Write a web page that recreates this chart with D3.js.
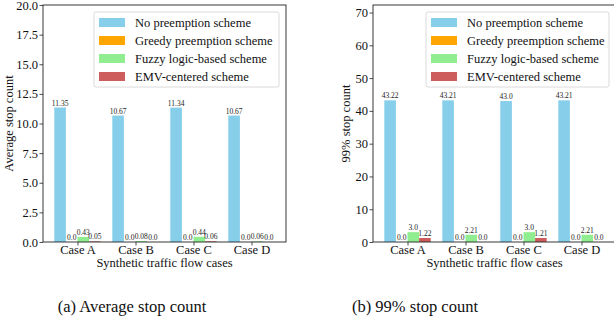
<!DOCTYPE html>
<html>
<head>
<meta charset="utf-8">
<script src="https://cdn.jsdelivr.net/npm/d3@7"></script>
<style>
  body { margin: 0; background: #fff; }
  svg text { font-family: "Liberation Serif", "Times New Roman", "DejaVu Serif", serif !important; }
</style>
</head>
<body>
<svg id="fig" width="614" height="324"></svg>
<script>
// data
const cases = ["Case A", "Case B", "Case C", "Case D"];
const schemes = ["No preemption scheme", "Greedy preemption scheme", "Fuzzy logic-based scheme", "EMV-centered scheme"];
const schemeColors = ["#87CEEB", "#FFA500", "#90EE90", "#CD5C5C"];

const avgNoPreempt = [11.35, 10.67, 11.34, 10.67];
const avgGreedy = [0.0, 0.0, 0.0, 0.0];
const avgFuzzy = [0.43, 0.08, 0.44, 0.06];
const avgEmv = [0.05, 0.0, 0.06, 0.0];

const p99NoPreempt = [43.22, 43.21, 43.0, 43.21];
const p99Greedy = [0.0, 0.0, 0.0, 0.0];
const p99Fuzzy = [3.0, 2.21, 3.0, 2.21];
const p99Emv = [1.22, 0.0, 1.21, 0.0];

const avgTicks = [0, 2.5, 5, 7.5, 10, 12.5, 15, 17.5, 20];
const p99Ticks = [0, 10, 20, 30, 40, 50, 60, 70];

const FONT = "Liberation Serif";
const svg = d3.select("#fig").attr("font-family", FONT);
svg.append("rect").attr("width", 614).attr("height", 324).attr("fill", "#fff");

// python-like float formatting (3 -> "3.0")
const pyStr = v => Number.isInteger(v) ? v.toFixed(1) : String(v);

function drawPanel(opt) {
    const g = svg.append("g").attr("font-family", FONT);
    const x = d3.scaleLinear().domain([-0.595, 3.595]).range([opt.left, opt.left + 243]);
    const y = d3.scaleLinear().domain([0, opt.ymax]).range([242, 5]);
    const barW = x(0.2) - x(0);

    // bars
    opt.series.forEach((vals, j) => {
        const off = (j - 1.5) * 0.2;
        g.selectAll(null)
            .data(vals)
            .join("rect")
            .attr("x", (d, i) => x(i + off) - barW / 2)
            .attr("y", d => y(d))
            .attr("width", barW)
            .attr("height", d => y(0) - y(d))
            .attr("fill", schemeColors[j]);
        g.selectAll(null)
            .data(vals)
            .join("text")
            .attr("x", (d, i) => x(i + off))
            .attr("y", d => y(d) - 2)
            .attr("text-anchor", "middle")
            .attr("font-size", 7.5)
            .attr("fill", "#222")
            .text(d => pyStr(d));
    });

    // axes
    const yAxis = g.append("g")
        .attr("transform", `translate(${opt.left},0)`)
        .call(d3.axisLeft(y).tickValues(opt.ticks).tickFormat(opt.fmt).tickSizeOuter(0).tickSize(3.5).tickPadding(1.5));
    const xAxis = g.append("g")
        .attr("transform", "translate(0,242)")
        .call(d3.axisBottom(x).tickValues([0, 1, 2, 3]).tickFormat(i => cases[i]).tickSizeOuter(0).tickSize(3.5).tickPadding(0));
    [yAxis, xAxis].forEach(a => {
        a.attr("font-family", FONT);
        a.select(".domain").remove();
        a.selectAll("line").attr("stroke", "#222").attr("stroke-width", 0.8);
        a.selectAll("text").attr("font-size", 12.5).attr("fill", "#111");
    });

    // frame
    g.append("rect")
        .attr("x", opt.left).attr("y", 5)
        .attr("width", 243).attr("height", 237)
        .attr("fill", "none").attr("stroke", "#222").attr("stroke-width", 0.9);

    // axis titles
    g.append("text")
        .attr("x", x(1.5)).attr("y", 267)
        .attr("text-anchor", "middle").attr("font-size", 12.5).attr("fill", "#111")
        .text("Synthetic traffic flow cases");
    g.append("text")
        .attr("transform", `translate(${opt.ylabelX},123.5) rotate(-90)`)
        .attr("text-anchor", "middle").attr("font-size", 12.5).attr("fill", "#111")
        .text(opt.ylabel);

    // legend
    const lg = g.append("g").attr("transform", `translate(${opt.legendX},12)`);
    lg.append("rect")
        .attr("width", opt.legendW).attr("height", 75).attr("rx", 2)
        .attr("fill", "#fff").attr("fill-opacity", 0.8)
        .attr("stroke", "#d0d0d0").attr("stroke-width", 0.8);
    schemes.forEach((s, j) => {
        lg.append("rect")
            .attr("x", 5).attr("y", 6 + j * 18)
            .attr("width", 26).attr("height", 9)
            .attr("fill", schemeColors[j]);
        lg.append("text")
            .attr("x", 41).attr("y", 14.5 + j * 18)
            .attr("font-size", 12.5).attr("fill", "#111")
            .text(s);
    });

    // caption
    svg.append("text")
        .attr("x", opt.captionX).attr("y", 312)
        .attr("text-anchor", "middle").attr("font-size", 16.5).attr("fill", "#111")
        .text(opt.caption);
}

drawPanel({
    left: 43, ymax: 20, ticks: avgTicks, fmt: d3.format(".1f"),
    series: [avgNoPreempt, avgGreedy, avgFuzzy, avgEmv],
    ylabel: "Average stop count", ylabelX: 13,
    legendX: 94, legendW: 185,
    caption: "(a) Average stop count", captionX: 132
});
drawPanel({
    left: 373, ymax: 72.3, ticks: p99Ticks, fmt: d3.format("d"),
    series: [p99NoPreempt, p99Greedy, p99Fuzzy, p99Emv],
    ylabel: "99% stop count", ylabelX: 350,
    legendX: 426, legendW: 183,
    caption: "(b) 99% stop count", captionX: 415
});
</script>
</body>
</html>
